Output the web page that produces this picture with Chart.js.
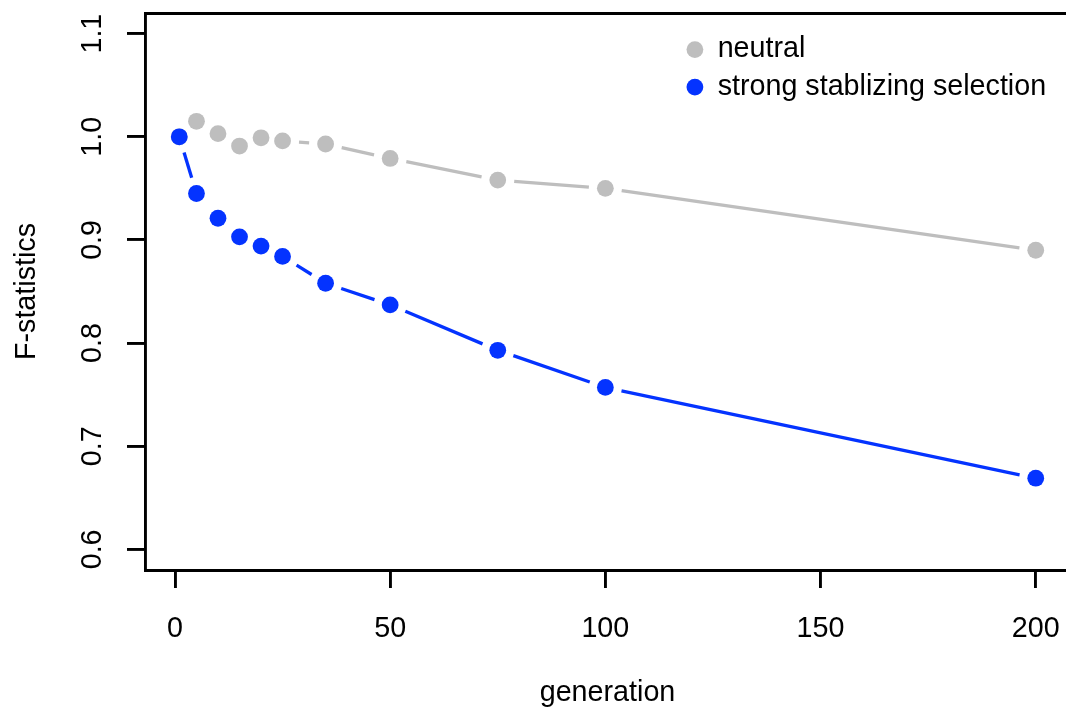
<!DOCTYPE html>
<html><head><meta charset="utf-8">
<script src="https://cdn.jsdelivr.net/npm/chart.js@4"></script>
<style>html,body{margin:0;padding:0;background:#fff;overflow:hidden;width:1066px;height:711px;} canvas{display:block;}</style>
</head><body>
<canvas id="c" width="1070" height="711" style="width:1070px;height:711px;"></canvas>
<script>
const generations = [1, 5, 10, 15, 20, 25, 35, 50, 75, 100, 200];
const neutral = [1.000, 1.015, 1.003, 0.991, 0.999, 0.996, 0.993, 0.979, 0.958, 0.950, 0.890];
const strong = [1.000, 0.945, 0.921, 0.903, 0.894, 0.884, 0.858, 0.837, 0.793, 0.757, 0.669];
const xTicks = [0, 50, 100, 150, 200];
const yTicks = [0.6, 0.7, 0.8, 0.9, 1.0, 1.1];
const seriesNames = ['neutral', 'strong stablizing selection'];
const xTitle = 'generation';
const yTitle = 'F-statistics';

const FONT = '"Liberation Sans", Arial, Helvetica, sans-serif';
const FS = 28.7;
const GAP = 16.5;
const AXW = 2.9;

const gappedLines = {
  id: 'gappedLines',
  beforeDatasetsDraw(chart) {
    const ctx = chart.ctx;
    chart.data.datasets.forEach((ds, i) => {
      const meta = chart.getDatasetMeta(i);
      if (meta.hidden) return;
      const pts = meta.data;
      ctx.save();
      ctx.strokeStyle = ds.borderColor;
      ctx.lineWidth = ds.borderWidth;
      ctx.lineCap = 'butt';
      for (let k = 0; k < pts.length - 1; k++) {
        const a = pts[k], b = pts[k + 1];
        const dx = b.x - a.x, dy = b.y - a.y, d = Math.hypot(dx, dy);
        if (d <= 2 * GAP) continue;
        const ux = dx / d, uy = dy / d;
        ctx.beginPath();
        ctx.moveTo(a.x + ux * GAP, a.y + uy * GAP);
        ctx.lineTo(b.x - ux * GAP, b.y - uy * GAP);
        ctx.stroke();
      }
      ctx.restore();
    });
  }
};

const legendPlace = {
  id: 'legendPlace',
  afterLayout(chart) {
    const lg = chart.legend, ca = chart.chartArea;
    lg.left = ca.left + 532.7;
    lg.top = ca.top + 13.4;
    lg.right = lg.left + lg.width;
    lg.bottom = lg.top + lg.height;
  }
};

const axisGrid = {display: true, drawOnChartArea: false, drawTicks: true, tickLength: 18, color: '#000', lineWidth: AXW};
const axisBorder = {display: true, color: '#000', width: AXW};
const font = {family: FONT, size: FS};

new Chart(document.getElementById('c'), {
  type: 'line',
  data: {
    datasets: [
      {
        label: seriesNames[0],
        data: generations.map((g, i) => ({x: g, y: neutral[i]})),
        borderColor: '#bebebe', backgroundColor: '#bebebe', borderWidth: 3.3,
        pointRadius: 8.4, pointHoverRadius: 8.4, pointBackgroundColor: '#bebebe',
        pointBorderWidth: 0, pointStyle: 'circle', showLine: false, order: 1
      },
      {
        label: seriesNames[1],
        data: generations.map((g, i) => ({x: g, y: strong[i]})),
        borderColor: '#0433ff', backgroundColor: '#0433ff', borderWidth: 3.3,
        pointRadius: 8.4, pointHoverRadius: 8.4, pointBackgroundColor: '#0433ff',
        pointBorderWidth: 0, pointStyle: 'circle', showLine: false, order: 0
      }
    ]
  },
  options: {
    responsive: false, animation: false, devicePixelRatio: 1,
    events: [],
    layout: {autoPadding: false, padding: 0},
    plugins: {
      legend: {
        position: 'chartArea', align: 'start',
        labels: {
          usePointStyle: true, boxHeight: 11.8, pointStyleWidth: 16.8, padding: 8.8,
          color: '#000', font: font,
          sort: (a, b) => a.datasetIndex - b.datasetIndex
        }
      },
      tooltip: {enabled: false}
    },
    scales: {
      x: {
        type: 'linear', position: 'bottom', min: -6.96, max: 207.96,
        afterBuildTicks: s => { s.ticks = xTicks.map(v => ({value: v})); },
        afterFit: s => { s.height = 141; s.paddingLeft = 0; s.paddingRight = 0; },
        grid: axisGrid, border: axisBorder,
        ticks: {color: '#000', font: font, padding: 23.8, maxRotation: 0, minRotation: 0, autoSkip: false, callback: v => String(v)},
        title: {display: true, text: xTitle, color: '#000', font: font, padding: {top: 0, bottom: 1}}
      },
      x2: {
        type: 'linear', position: 'top', min: -6.96, max: 207.96,
        grid: {display: false}, ticks: {display: false}, border: axisBorder,
        afterFit: s => { s.height = 13; s.paddingLeft = 0; s.paddingRight = 0; }
      },
      y: {
        type: 'linear', position: 'left', min: 0.58, max: 1.12,
        afterBuildTicks: s => { s.ticks = yTicks.map(v => ({value: v})); },
        afterFit: s => { s.width = 145; s.paddingTop = 0; s.paddingBottom = 0; },
        grid: axisGrid, border: axisBorder,
        ticks: {color: '#000', font: font, padding: 14, minRotation: 90, maxRotation: 90, crossAlign: 'center', autoSkip: false, callback: v => v.toFixed(1)},
        title: {display: true, text: yTitle, color: '#000', font: font, padding: {top: 10, bottom: 0}}
      }
    }
  },
  plugins: [gappedLines, legendPlace]
});
</script>
</body></html>
